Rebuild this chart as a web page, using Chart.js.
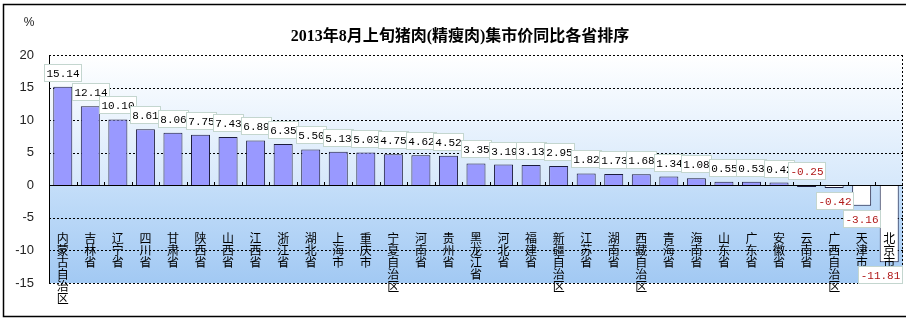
<!DOCTYPE html>
<html>
<head>
<meta charset="utf-8">
<script src="https://cdn.jsdelivr.net/npm/chart.js@4/dist/chart.umd.min.js"></script>
<style>
html,body{margin:0;padding:0;background:#fff;}
#wrap{width:914px;height:322px;position:relative;}
</style>
</head>
<body>
<div id="wrap"><canvas id="c" width="914" height="322"></canvas></div>
<script>
const categories = ['内蒙古自治区','吉林省','辽宁省','四川省','甘肃省','陕西省','山西省','江西省','浙江省','湖北省','上海市','重庆市','宁夏自治区','河南省','贵州省','黑龙江省','河北省','福建省','新疆自治区','江苏省','湖南省','西藏自治区','青海省','海南省','山东省','广东省','安徽省','云南省','广西自治区','天津市','北京市'];
const values = [15.14,12.14,10.10,8.61,8.06,7.75,7.43,6.89,6.35,5.50,5.13,5.03,4.75,4.62,4.52,3.35,3.19,3.13,2.95,1.82,1.73,1.68,1.34,1.08,0.55,0.53,0.42,-0.25,-0.42,-3.16,-11.81];
const yTicks = [-15,-10,-5,0,5,10,15,20];
const titleText = '2013年8月上旬猪肉(精瘦肉)集市价同比各省排序';
const unitText = '%';

const decorPlugin = {
  id: 'decor',
  beforeDatasetsDraw(chart) {
    const {ctx, chartArea: a, scales: {y}} = chart;
    const z = y.getPixelForValue(0);
    ctx.save();
    let g = ctx.createLinearGradient(0, a.top, 0, z);
    g.addColorStop(0, '#ffffff');
    g.addColorStop(1, '#d6e8fb');
    ctx.fillStyle = g;
    ctx.fillRect(a.left, a.top, a.right - a.left, z - a.top);
    g = ctx.createLinearGradient(0, z, 0, a.bottom);
    g.addColorStop(0, '#c4def9');
    g.addColorStop(1, '#a2c9f3');
    ctx.fillStyle = g;
    ctx.fillRect(a.left, z, a.right - a.left, a.bottom - z);
    // dotted grid lines
    ctx.strokeStyle = '#000';
    ctx.lineWidth = 1;
    ctx.setLineDash([2,2]);
    ctx.beginPath();
    y.ticks.forEach(t => {
      if (t.value === 0) return;
      const py = Math.round(y.getPixelForValue(t.value)) + 0.5;
      ctx.moveTo(a.left, py);
      ctx.lineTo(a.right, py);
    });
    ctx.moveTo(Math.round(a.right) - 0.5, a.top);
    ctx.lineTo(Math.round(a.right) - 0.5, a.bottom);
    ctx.stroke();
    ctx.setLineDash([]);
    // solid axis line
    ctx.beginPath();
    ctx.moveTo(Math.round(a.left) + 0.5, a.top);
    ctx.lineTo(Math.round(a.left) + 0.5, a.bottom);
    ctx.stroke();
    ctx.restore();
  },
  afterDatasetsDraw(chart) {
    const {ctx, chartArea: a, scales: {x, y}} = chart;
    const z = y.getPixelForValue(0);
    ctx.save();
    ctx.strokeStyle = '#000';
    ctx.lineWidth = 1;
    // zero line
    ctx.beginPath();
    ctx.moveTo(a.left, Math.round(z) + 0.5);
    ctx.lineTo(a.right, Math.round(z) + 0.5);
    ctx.stroke();
    // small ticks at category boundaries
    const step = x.getPixelForValue(1) - x.getPixelForValue(0);
    ctx.beginPath();
    for (let i = 1; i < categories.length; i++) {
      const px = Math.round(x.getPixelForValue(i) - step / 2) + 0.5;
      ctx.moveTo(px, Math.round(z));
      ctx.lineTo(px, Math.round(z) - 3);
    }
    ctx.stroke();

    // category labels (vertical stacked characters)
    ctx.fillStyle = '#000';
    ctx.font = '12px "Noto Sans CJK SC"';
    ctx.textAlign = 'center';
    ctx.textBaseline = 'top';
    const labelTop = y.getPixelForValue(-7.2);
    categories.forEach((c, i) => {
      const px = x.getPixelForValue(i);
      [...c].forEach((ch, k) => {
        ctx.fillText(ch, px, labelTop + k * 12);
      });
    });

    // data labels
    const meta = chart.getDatasetMeta(0);
    ctx.font = '11px "Liberation Mono", "DejaVu Sans Mono", monospace';
    ctx.textBaseline = 'middle';
    meta.data.forEach((bar, i) => {
      const v = values[i];
      const txt = v.toFixed(2);
      const w = Math.round(ctx.measureText(txt).width) + 4;
      const h = 17;
      let cx = bar.x;
      let top;
      if (v >= 0 || Math.abs(v) < 0.3) {
        const endY = v >= 0 ? bar.y : z;
        top = endY - 6 - h;
      } else {
        top = bar.y + 4;
      }
      let left = cx - w / 2;
      if (left + w > a.right - 1) left = a.right - 1 - w;
      left = Math.round(left) + 0.5;
      top = Math.round(top) + 0.5;
      ctx.fillStyle = '#ffffff';
      ctx.fillRect(left, top, w, h);
      ctx.strokeStyle = '#c4d6cf';
      ctx.strokeRect(left, top, w, h);
      ctx.fillStyle = v < 0 ? '#b01818' : '#000000';
      ctx.textAlign = 'center';
      ctx.fillText(txt, left + w / 2, top + h / 2 + 1);
    });
    ctx.restore();
  },
  afterDraw(chart) {
    const {ctx} = chart;
    ctx.save();
    // title
    ctx.fillStyle = '#000';
    ctx.font = 'bold 16px "Liberation Serif", "Noto Sans CJK SC"';
    ctx.textAlign = 'center';
    ctx.textBaseline = 'middle';
    ctx.fillText(titleText, 460, 37);
    // unit
    ctx.font = '12px "Liberation Sans", "Noto Sans CJK SC"';
    ctx.fillStyle = '#222';
    ctx.fillText(unitText, 29, 23);
    // outer frame
    ctx.strokeStyle = '#000';
    ctx.lineWidth = 1.5;
    ctx.beginPath();
    ctx.moveTo(906, 4.5);
    ctx.lineTo(3.5, 4.5);
    ctx.lineTo(3.5, 316.5);
    ctx.lineTo(906, 316.5);
    ctx.stroke();
    ctx.restore();
  }
};

new Chart(document.getElementById('c'), {
  type: 'bar',
  data: {
    labels: categories,
    datasets: [{
      data: values,
      backgroundColor: values.map(v => v >= 0 ? '#9999ff' : '#ffffff'),
      borderColor: '#1c1c3c',
      borderWidth: 1,
      barPercentage: 0.69,
      categoryPercentage: 1.0
    }]
  },
  options: {
    responsive: false,
    animation: false,
    devicePixelRatio: 1,
    layout: {padding: {top: 55, bottom: 39, right: 11, left: 0}},
    plugins: {legend: {display: false}, tooltip: {enabled: false}, title: {display: false}},
    scales: {
      x: {
        display: true,
        grid: {display: false, drawTicks: false},
        border: {display: false},
        ticks: {display: false}
      },
      y: {
        min: -15, max: 20,
        afterBuildTicks(s) { s.ticks = yTicks.map(v => ({value: v})); },
        afterFit(s) { s.width = 49; },
        grid: {display: false, drawTicks: false},
        border: {display: false},
        ticks: {
          padding: 15,
          color: '#222',
          font: {family: '"Liberation Sans", sans-serif', size: 13}
        }
      }
    }
  },
  plugins: [decorPlugin]
});
</script>
</body>
</html>
